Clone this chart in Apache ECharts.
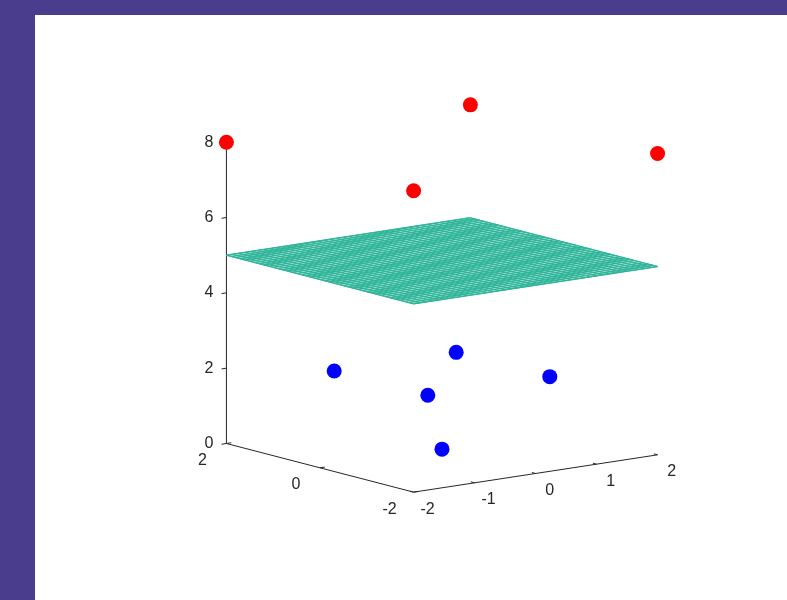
<!DOCTYPE html>
<html>
<head>
<meta charset="utf-8">
<script src="https://cdn.jsdelivr.net/npm/echarts@6/dist/echarts.min.js"></script>
<style>
    html, body { margin: 0; padding: 0; background: #4b3d8d; }
    #chart { position: absolute; left: 35px; top: 15px; width: 752px; height: 585px; background: #fff; }
</style>
</head>
<body>
<div id="chart"></div>
<script>
    // 坐标轴范围与刻度
    const xLim = [-2, 2]
    const yLim = [-2, 2]
    const zLim = [0, 8]
    const xTicks = [-2, -1, 0, 1, 2]
    const yTicks = [-2, 0, 2]
    const zTicks = [0, 2, 4, 6, 8]

    // 红色点 (上方)
    const redX = [-2, -2, 2, 2]
    const redY = [2, -2, -2, 2]
    const redZ = [8, 8, 8, 8]
    // 蓝色点 (下方)
    const blueX = [0, -1, 1, -1, 1]
    const blueY = [0, -1, 1, 1, -1]
    const blueZ = [0, 2, 2, 2, 2]
    // 分隔平面 z = 5
    const planeZ = [5]
    const meshStep = 0.1

    // 视角 (类似 MATLAB view(az, el))
    const AZ = -37.5 * Math.PI / 180
    const EL = 11.5 * Math.PI / 180

    // 3D -> 2D 正交投影，归一化到单位立方体
    const proj = (x, y, z) => {
        const X = (x - (xLim[0] + xLim[1]) / 2) / (xLim[1] - xLim[0])
        const Y = (y - (yLim[0] + yLim[1]) / 2) / (yLim[1] - yLim[0])
        const Z = (z - (zLim[0] + zLim[1]) / 2) / (zLim[1] - zLim[0])
        const h = Math.cos(AZ) * X + Math.sin(AZ) * Y
        const v = -Math.sin(AZ) * Math.sin(EL) * X + Math.cos(AZ) * Math.sin(EL) * Y + Math.cos(EL) * Z
        return [h, v]
    }

    const axisColor = '#262626'
    const font = '16px "Liberation Sans", Arial, sans-serif'

    const mChart = echarts.init(document.getElementById('chart'))

    // 坐标轴：线、刻度、标签
    const renderAxes = (params, api) => {
        const pt = (x, y, z) => api.coord(proj(x, y, z))
        const children = []
        const line = (a, b) => children.push({
            type: 'line',
            shape: { x1: a[0], y1: a[1], x2: b[0], y2: b[1] },
            style: { stroke: axisColor, lineWidth: 1 }
        })
        const text = (p, str, dx, dy, align) => children.push({
            type: 'text',
            x: p[0] + dx, y: p[1] + dy,
            style: { text: str, fill: axisColor, font: font, align: align, verticalAlign: 'middle' }
        })
        // z 轴
        line(pt(xLim[0], yLim[1], zLim[0]), pt(xLim[0], yLim[1], zLim[1]))
        zTicks.forEach((t) => {
            line(pt(xLim[0], yLim[1], t), pt(xLim[0] - 0.08, yLim[1], t))
            text(pt(xLim[0], yLim[1], t), String(t), -13, 0, 'right')
        })
        // y 轴
        line(pt(xLim[0], yLim[1], zLim[0]), pt(xLim[0], yLim[0], zLim[0]))
        yTicks.forEach((t) => {
            line(pt(xLim[0], t, zLim[0]), pt(xLim[0] + 0.08, t, zLim[0]))
            text(pt(xLim[0], t, zLim[0]), String(t), -24, 17, 'center')
        })
        // x 轴
        line(pt(xLim[0], yLim[0], zLim[0]), pt(xLim[1], yLim[0], zLim[0]))
        xTicks.forEach((t) => {
            line(pt(t, yLim[0], zLim[0]), pt(t, yLim[0] + 0.08, zLim[0]))
            text(pt(t, yLim[0], zLim[0]), String(t), 14, 17, 'center')
        })
        return { type: 'group', children: children }
    }

    // 网格平面 (mesh：白色面 + 彩色网格线)
    const renderPlane = (params, api) => {
        const z = api.value(0)
        const pt = (x, y) => api.coord(proj(x, y, z))
        const meshColor = '#2fb599'
        const children = [{
            type: 'polygon',
            shape: { points: [pt(xLim[0], yLim[0]), pt(xLim[1], yLim[0]), pt(xLim[1], yLim[1]), pt(xLim[0], yLim[1])] },
            style: { fill: '#ffffff', stroke: meshColor, lineWidth: 1 }
        }]
        const n = Math.round((xLim[1] - xLim[0]) / meshStep)
        for (let i = 0; i <= n; i++) {
            const yy = yLim[0] + i * meshStep
            const xx = xLim[0] + i * meshStep
            const a = pt(xLim[0], yy), b = pt(xLim[1], yy)
            const c = pt(xx, yLim[0]), d = pt(xx, yLim[1])
            children.push({ type: 'line', shape: { x1: a[0], y1: a[1], x2: b[0], y2: b[1] }, style: { stroke: meshColor, lineWidth: 1.5 } })
            children.push({ type: 'line', shape: { x1: c[0], y1: c[1], x2: d[0], y2: d[1] }, style: { stroke: meshColor, lineWidth: 1.2 } })
        }
        return { type: 'group', children: children }
    }

    const toPoints = (xs, ys, zs) => xs.map((x, i) => proj(x, ys[i], zs[i]))

    const options = {
        animation: false,
        grid: { left: 99.5, top: 6.75, width: 615, height: 553.5 },
        xAxis: { type: 'value', min: -1, max: 1, show: false },
        yAxis: { type: 'value', min: -0.9, max: 0.9, show: false },
        series: [
            {
                type: 'custom',
                renderItem: renderAxes,
                data: [[0, 0]],
                clip: false,
                silent: true,
                z: 1
            },
            {
                type: 'custom',
                renderItem: renderPlane,
                data: planeZ.map((z) => [z]),
                encode: { x: -1, y: -1 },
                clip: false,
                silent: true,
                z: 2
            },
            {
                type: 'scatter',
                data: toPoints(blueX, blueY, blueZ),
                symbolSize: 15,
                itemStyle: { color: '#0000ff', opacity: 1 },
                clip: false,
                silent: true,
                z: 3
            },
            {
                type: 'scatter',
                data: toPoints(redX, redY, redZ),
                symbolSize: 15,
                itemStyle: { color: '#ff0000', opacity: 1 },
                clip: false,
                silent: true,
                z: 3
            }
        ]
    }
    mChart.setOption(options)
</script>
</body>
</html>
